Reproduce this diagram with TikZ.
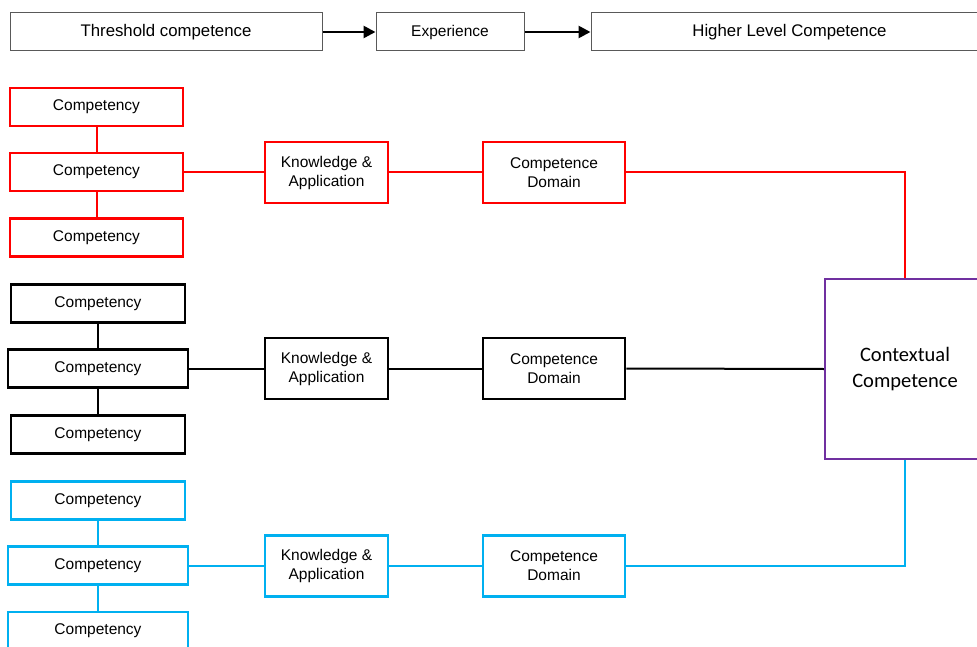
\documentclass[tikz,border=0pt]{standalone}
\usepackage{fontspec}
\setmainfont{Liberation Sans}
\newfontfamily\ctxfont{Carlito}
\usetikzlibrary{arrows.meta}
\definecolor{cred}{HTML}{FF0000}
\definecolor{cblue}{HTML}{00B0F0}
\definecolor{cpurple}{HTML}{7030A0}
\definecolor{cgray}{HTML}{595959}
\begin{document}
\begin{tikzpicture}[x=1pt,y=-1pt,
  font=\fontsize{15.5}{19}\selectfont,
  topbox/.style={draw=cgray,line width=1pt,fill=white,inner sep=0pt,minimum height=38pt},
  bigtext/.style={font=\fontsize{16.8}{20}\selectfont},
  compbox/.style={draw=#1,line width=2.5pt,fill=white,inner sep=0pt,minimum height=38pt},
  kabox/.style={draw=#1,line width=2.5pt,fill=white,inner sep=0pt,minimum width=123pt,minimum height=61pt,align=center},
  cdbox/.style={draw=#1,line width=2.5pt,fill=white,inner sep=0pt,minimum width=142pt,minimum height=61pt,align=center},
  link/.style={draw=#1,line width=2pt},
  flow/.style={draw=black,line width=2.6pt,-{Triangle[length=12pt,width=12pt]}}]
\useasboundingbox (0,0) rectangle (977,647);
\clip (0,0) rectangle (977,647);

% progression row
\node[topbox,bigtext,minimum width=312pt] (thr) at (166,32) {Threshold competence};
\node[topbox,minimum width=148pt] (exp) at (450,32) {Experience};
\node[topbox,bigtext,minimum width=397pt] (hlc) at (789.5,32) {Higher Level Competence};
\draw[flow] (thr.east) -- (exp.west);
\draw[flow] (exp.east) -- (hlc.west);

% contextual competence
\node[draw=cpurple,line width=2.5pt,fill=white,minimum width=160pt,minimum height=180pt,inner sep=0pt,align=center,
  font=\ctxfont\fontsize{20.5}{26}\selectfont] (ctx) at (905,369) {Contextual\\Competence};

% red branch
\node[compbox=cred,minimum width=173pt] (r1) at (96.5,107) {Competency};
\node[compbox=cred,minimum width=173pt] (r2) at (96.5,172) {Competency};
\node[compbox=cred,minimum width=173pt] (r3) at (96.5,237.5) {Competency};
\node[kabox=cred] (rka) at (326.5,172.5) {Knowledge \&\\Application};
\node[cdbox=cred] (rcd) at (554,172.5) {Competence\\Domain};

% black branch
\node[compbox=black,minimum width=174pt] (k1) at (98,303.5) {Competency};
\node[compbox=black,minimum width=180pt] (k2) at (98,368.5) {Competency};
\node[compbox=black,minimum width=174pt] (k3) at (98,434.5) {Competency};
\node[kabox=black] (kka) at (326.5,368.5) {Knowledge \&\\Application};
\node[cdbox=black] (kcd) at (554,368.5) {Competence\\Domain};

% blue branch
\node[compbox=cblue,minimum width=174pt] (b1) at (98,500.5) {Competency};
\node[compbox=cblue,minimum width=180pt] (b2) at (98,565.5) {Competency};
\node[compbox=cblue,minimum width=180pt] (b3) at (98,631) {Competency};
\node[kabox=cblue] (bka) at (326.5,566) {Knowledge \&\\Application};
\node[cdbox=cblue] (bcd) at (554,566) {Competence\\Domain};

% connectors
\draw[link=cred] (r1.south) -- (r2.north);
\draw[link=cred] (r2.south) -- (r3.north);
\draw[link=cred] (r2.east) -- (r2.east -| rka.west);
\draw[link=cred] (rka.east) -- (rka.east -| rcd.west);
\draw[link=cred] (rcd.east) -| (ctx.north);

\draw[link=black] (k1.south) -- (k2.north);
\draw[link=black] (k2.south) -- (k3.north);
\draw[link=black] (k2.east) -- (kka.west);
\draw[link=black] (kka.east) -- (kcd.west);
\draw[link=black] (kcd.east) -- (ctx.west);

\draw[link=cblue] (b1.south) -- (b2.north);
\draw[link=cblue] (b2.south) -- (b3.north);
\draw[link=cblue] (b2.east) -- (b2.east -| bka.west);
\draw[link=cblue] (bka.east) -- (bcd.west);
\draw[link=cblue] (bcd.east) -| (ctx.south);
\end{tikzpicture}
\end{document}
